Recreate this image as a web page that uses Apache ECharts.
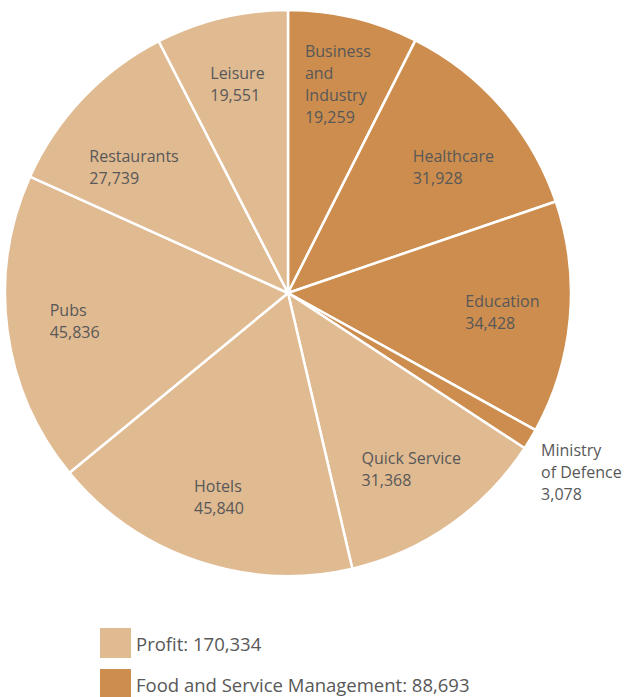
<!DOCTYPE html>
<html>
<head>
<meta charset="utf-8">
<script src="https://cdn.jsdelivr.net/npm/echarts@6/dist/echarts.min.js"></script>
<style>
  html, body { margin: 0; padding: 0; background: #fff; }
  #chart { width: 624px; height: 697px; }
</style>
</head>
<body>
<div id="chart"></div>
<script>
const categories = ['Business and Industry', 'Healthcare', 'Education', 'Ministry of Defence', 'Quick Service', 'Hotels', 'Pubs', 'Restaurants', 'Leisure'];
const labelNames = ['Business\nand\nIndustry', 'Healthcare', 'Education', 'Ministry\nof Defence', 'Quick Service', 'Hotels', 'Pubs', 'Restaurants', 'Leisure'];
const values = [19259, 31928, 34428, 3078, 31368, 45840, 45836, 27739, 19551];
const groups = ['fsm', 'fsm', 'fsm', 'fsm', 'profit', 'profit', 'profit', 'profit', 'profit'];
const groupKeys = ['profit', 'fsm'];
const groupNames = ['Profit', 'Food and Service Management'];

const colors = { profit: '#e0ba91', fsm: '#cc8d4e' };
const textColor = '#585858';
const fontFamily = '"Open Sans", "Noto Sans", sans-serif';
const fmt = v => v.toLocaleString('en-US');

// label style tweaks (offsets in px, style only)
const labelOffsets = { 'Healthcare': [3, 15], 'Restaurants': [2, 22], 'Ministry of Defence': [-3, 29] };

const groupTotals = groupKeys.map(g => values.reduce((s, v, i) => s + (groups[i] === g ? v : 0), 0));
const legendNames = groupNames.map((n, i) => n + ': ' + fmt(groupTotals[i]));

const R = 283;
const center = [288, 293];

const mainData = categories.map((c, i) => ({
  name: c, value: values[i],
  itemStyle: { color: colors[groups[i]] }
}));

const labelData = categories.map((c, i) => {
  const item = { name: c, value: values[i], label: { formatter: '{t|' + labelNames[i].split('\n').join('}\n{t|') + '}\n{t|' + fmt(values[i]) + '}' } };
  if (labelOffsets[c]) item.label.offset = labelOffsets[c];
  if (c === 'Ministry of Defence') {
    item.label.position = 'outside';
    item.labelLine = { show: false, length: 8, length2: 2 };
  }
  return item;
});

const chart = echarts.init(document.getElementById('chart'), null, { renderer: 'svg' });
chart.setOption({
  animation: false,
  backgroundColor: '#fff',
  legend: {
    data: legendNames,
    orient: 'vertical',
    left: 95,
    top: 623,
    height: 100,
    padding: 5,
    itemWidth: 31,
    itemHeight: 30,
    itemGap: 11,
    icon: 'rect',
    selectedMode: false,
    textStyle: { color: textColor, fontSize: 18.5, fontFamily: fontFamily, padding: [10, 0, 0, 0] }
  },
  series: [
    {
      type: 'pie',
      center: center,
      radius: [0, R],
      startAngle: 90,
      clockwise: true,
      silent: true,
      label: { show: false },
      labelLine: { show: false },
      itemStyle: { borderColor: '#fff', borderWidth: 2.5 },
      data: mainData
    },
    {
      type: 'pie',
      center: center,
      radius: [R / 2, R],
      startAngle: 90,
      clockwise: true,
      silent: true,
      avoidLabelOverlap: false,
      itemStyle: { color: 'rgba(0,0,0,0)', borderWidth: 0 },
      label: {
        show: true,
        position: 'inside',
        color: textColor,
        fontFamily: fontFamily,
        fontSize: 16,
        lineHeight: 22,
        rich: { t: { color: textColor, fontFamily: fontFamily, fontSize: 16, lineHeight: 22, align: 'left' } }
      },
      labelLine: { show: false },
      data: labelData
    },
    {
      type: 'pie',
      center: center,
      radius: [0, 0],
      silent: true,
      label: { show: false },
      labelLine: { show: false },
      data: legendNames.map((n, i) => ({ name: n, value: groupTotals[i], itemStyle: { color: colors[groupKeys[i]] } }))
    }
  ]
});
</script>
</body>
</html>
